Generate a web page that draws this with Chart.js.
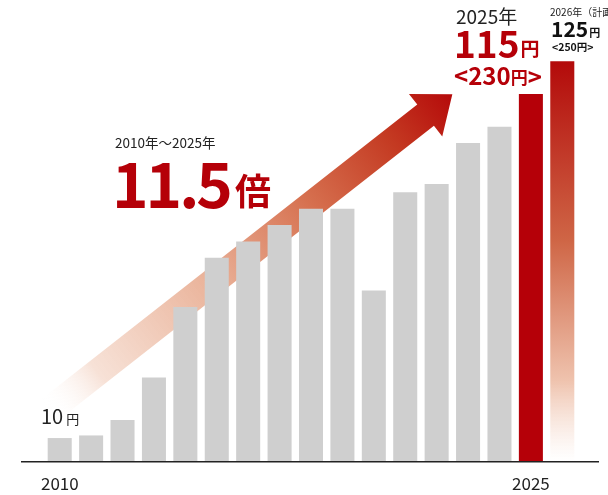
<!DOCTYPE html>
<html>
<head>
<meta charset="utf-8">
<script src="https://cdn.jsdelivr.net/npm/chart.js@4.4.0/dist/chart.umd.min.js"></script>
<style>
  html, body { margin: 0; padding: 0; background: #fff; }
  #wrap { width: 608px; height: 495px; position: relative; }
</style>
</head>
<body>
<div id="wrap"><canvas id="chart"></canvas></div>
<script>
// dividend per share (yen), 2010 - 2026 (2026 = plan)
const years = ['2010', '2011', '2012', '2013', '2014', '2015', '2016', '2017', '2018',
  '2019', '2020', '2021', '2022', '2023', '2024', '2025', '2026'];
const dividends = [10, 10.8, 15.5, 28.5, 50, 65, 70, 75, 80, 80, 55, 85, 87.5, 100, 105, 115, 125];
const tickLabels = ['2010', '2025'];

const RED = '#b50008';
const GRAY = '#cfcfcf';
const FONT = '"Noto Sans CJK JP", "Noto Sans", sans-serif';

function barColor(c) {
  const i = c.dataIndex;
  if (i === years.length - 1) {
    const area = c.chart.chartArea;
    if (!area) return RED;
    const y = c.chart.scales.y;
    const top = y.getPixelForValue(dividends[i]);
    const g = c.chart.ctx.createLinearGradient(0, top, 0, area.bottom);
    g.addColorStop(0, '#b30a0a');
    g.addColorStop(0.45, '#cf6646');
    g.addColorStop(0.8, '#efc3ae');
    g.addColorStop(1, 'rgba(255,255,255,0.6)');
    return g;
  }
  if (years[i] === '2025') return RED;
  return GRAY;
}

// rising arrow behind the bars
const arrowPlugin = {
  id: 'arrow',
  beforeDatasetsDraw(chart) {
    const { ctx, scales: { x, y } } = chart;
    const sx = x.getPixelForValue(-0.33), sy = y.getPixelForValue(18.5);
    const tx = x.getPixelForValue(12.5), ty = y.getPixelForValue(114.9);
    const len = Math.hypot(tx - sx, ty - sy);
    const ang = Math.atan2(ty - sy, tx - sx);
    const hw = 13.5, headL = 34, headW = 27;
    ctx.save();
    ctx.translate(sx, sy);
    ctx.rotate(ang);
    const g = ctx.createLinearGradient(0, 0, len, 0);
    g.addColorStop(0, 'rgba(255,255,255,0)');
    g.addColorStop(0.12, 'rgba(246,222,210,0.9)');
    g.addColorStop(0.4, '#eab39a');
    g.addColorStop(0.65, '#d6704f');
    g.addColorStop(0.85, '#c43a22');
    g.addColorStop(1, '#b50a0a');
    ctx.fillStyle = g;
    ctx.beginPath();
    ctx.moveTo(0, -hw);
    ctx.lineTo(len - headL, -hw);
    ctx.lineTo(len - headL, -headW);
    ctx.lineTo(len, 0);
    ctx.lineTo(len - headL, headW);
    ctx.lineTo(len - headL, hw);
    ctx.lineTo(0, hw);
    ctx.closePath();
    ctx.fill();
    ctx.restore();
  }
};

function runs(ctx, x, y, parts) {
  parts.forEach(p => {
    ctx.font = p.font;
    ctx.fillStyle = p.color;
    ctx.letterSpacing = p.ls || '0px';
    ctx.fillText(p.text, x + (p.dx || 0), y + (p.dy || 0));
    x += ctx.measureText(p.text).width + (p.dx || 0);
  });
  ctx.letterSpacing = '0px';
}

const labelPlugin = {
  id: 'labels',
  afterDatasetsDraw(chart) {
    const { ctx, scales: { x, y }, chartArea } = chart;
    ctx.save();
    ctx.textBaseline = 'alphabetic';
    ctx.textAlign = 'left';

    // baseline
    ctx.strokeStyle = '#222';
    ctx.lineWidth = 1.5;
    ctx.beginPath();
    ctx.moveTo(21, chartArea.bottom + 0.75);
    ctx.lineTo(599, chartArea.bottom + 0.75);
    ctx.stroke();

    // tick labels
    ctx.font = '17px ' + FONT;
    ctx.fillStyle = '#222';
    ctx.textAlign = 'center';
    tickLabels.forEach(t => {
      const idx = years.indexOf(t);
      const w = ctx.measureText(t).width;
      const cx = idx === 0 ? 41 + w / 2 : x.getPixelForValue(idx);
      ctx.fillText(t, cx, 490);
    });
    ctx.textAlign = 'left';

    // 10 yen
    runs(ctx, 41, 424, [
      { text: '10', font: '20px ' + FONT, color: '#222' },
      { text: '円', font: '13px ' + FONT, color: '#222', dx: 3 }
    ]);

    // growth
    runs(ctx, 115, 148, [{ text: '2010年～2025年', font: '13.5px ' + FONT, color: '#222' }]);
    runs(ctx, 112, 208, [
      { text: '11.5', font: 'bold 62px ' + FONT, color: RED, ls: '-3px' },
      { text: '倍', font: 'bold 36px ' + FONT, color: RED, dx: 5, dy: -3 }
    ]);

    // 2025
    runs(ctx, 456, 24, [{ text: '2025年', font: '19px ' + FONT, color: '#222' }]);
    runs(ctx, 454, 57.5, [
      { text: '115', font: 'bold 37px ' + FONT, color: RED },
      { text: '円', font: 'bold 19px ' + FONT, color: RED, dx: 1, dy: -1.5 }
    ]);
    runs(ctx, 454, 85, [
      { text: '<230', font: 'bold 24px ' + FONT, color: RED },
      { text: '円', font: 'bold 17px ' + FONT, color: RED, dy: -1 },
      { text: '>', font: 'bold 24px ' + FONT, color: RED, dy: 1 }
    ]);

    // 2026 plan
    runs(ctx, 550, 16, [{ text: '2026年（計画）', font: '10px ' + FONT, color: '#222' }]);
    runs(ctx, 551, 37, [
      { text: '125', font: 'bold 21px ' + FONT, color: '#111' },
      { text: '円', font: 'bold 11px ' + FONT, color: '#111', dx: 1 }
    ]);
    runs(ctx, 552, 51, [{ text: '<250円>', font: 'bold 10.5px ' + FONT, color: '#111' }]);

    ctx.restore();
  }
};

new Chart(document.getElementById('chart'), {
  type: 'bar',
  data: {
    labels: years,
    datasets: [{
      data: dividends,
      backgroundColor: barColor,
      borderWidth: 0,
      barPercentage: 0.765,
      categoryPercentage: 1
    }]
  },
  options: {
    responsive: true,
    maintainAspectRatio: false,
    animation: false,
    layout: { padding: { left: 44, right: 30, top: 12, bottom: 34 } },
    plugins: { legend: { display: false }, tooltip: { enabled: false } },
    scales: {
      x: { display: false },
      y: { display: false, min: 3, max: 140 }
    }
  },
  plugins: [arrowPlugin, labelPlugin]
});
</script>
</body>
</html>
